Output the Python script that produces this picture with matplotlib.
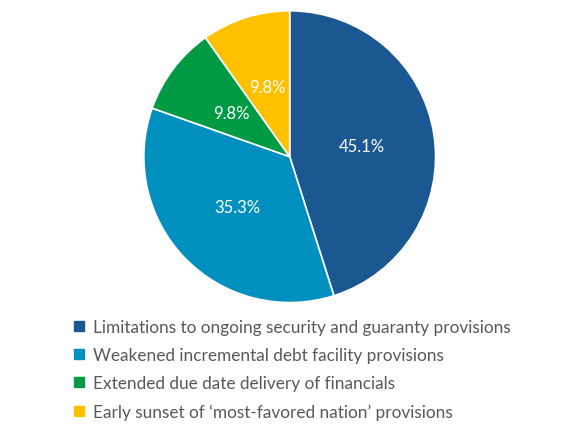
import matplotlib
matplotlib.use("Agg")
import matplotlib.pyplot as plt
from matplotlib.lines import Line2D

categories = [
    "Limitations to ongoing security and guaranty provisions",
    "Weakened incremental debt facility provisions",
    "Extended due date delivery of financials",
    "Early sunset of \u2018most-favored nation\u2019 provisions",
]
values = [45.1, 35.3, 9.8, 9.8]
colors = ["#1B5892", "#0090C0", "#009A44", "#FFC000"]

plt.rcParams['font.family'] = ['Lato', 'DejaVu Sans']

fig = plt.figure(figsize=(5.8, 4.35), dpi=100)
ax = fig.add_axes([0.248, 0.302, 0.503, 0.671])
wedges, texts, autotexts = ax.pie(
    values, colors=colors, startangle=90, counterclock=False,
    autopct=lambda p: f"{p:.1f}%", pctdistance=0.5,
    wedgeprops=dict(edgecolor="white", linewidth=1.2),
    textprops=dict(color="white", fontsize=12),
)
ax.set_xlim(-1, 1)
ax.set_ylim(-1, 1)
ax.set_aspect("equal")

handles = [Line2D([], [], marker='s', linestyle='none', markersize=6.5,
                  markerfacecolor=c, markeredgecolor=c) for c in colors]
leg = fig.legend(handles, categories, loc="upper left",
                 bbox_to_anchor=(0.1266, 0.2635), frameon=False,
                 fontsize=12.4, handlelength=0.7, handletextpad=0.45,
                 labelspacing=0.70, borderaxespad=0, borderpad=0)
for t in leg.get_texts():
    t.set_color("#595959")

fig.savefig("out.png", dpi=100)
